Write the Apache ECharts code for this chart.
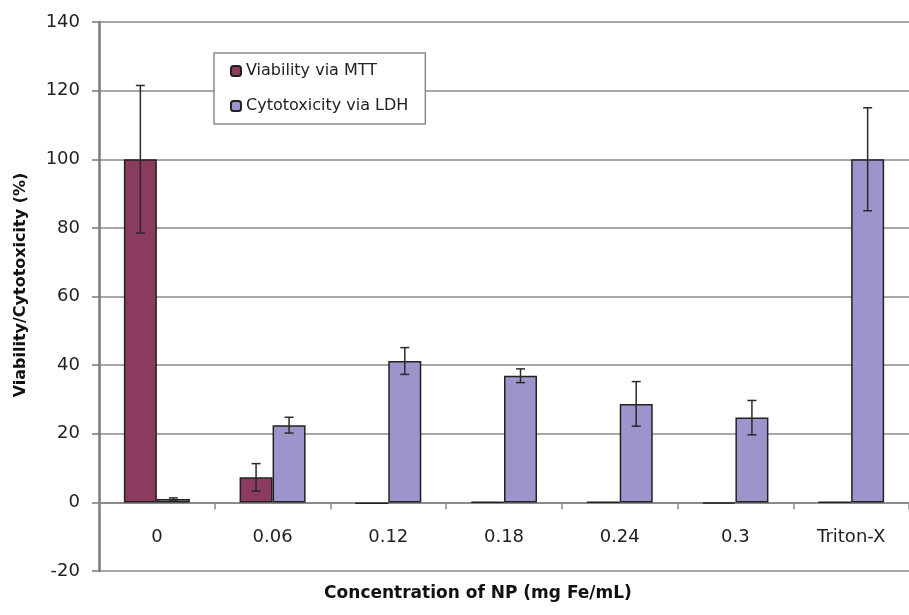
<!DOCTYPE html>
<html>
<head>
<meta charset="utf-8">
<script src="https://cdn.jsdelivr.net/npm/echarts@6/dist/echarts.min.js"></script>
<style>
  html, body { margin: 0; padding: 0; background: #fff; }
  #chart { width: 909px; height: 615px; }
</style>
</head>
<body>
<div id="chart"></div>
<script type="text/javascript">
	var categories = ['0', '0.06', '0.12', '0.18', '0.24', '0.3', 'Triton-X'];
	var mttValues = [100, 7.3, -0.5, 0.1, 0.1, -0.3, 0.1];
	var mttErrors = [21.5, 4, 0, 0, 0, 0, 0];
	var ldhValues = [1, 22.5, 41.2, 36.9, 28.7, 24.7, 100];
	var ldhErrors = [0.3, 2.3, 3.9, 2, 6.5, 5, 15];
	var yTicks = { min: -20, max: 140, step: 20 };

	var mttColor = '#8b3b5e';
	var ldhColor = '#9c94ca';
	var barW = 33;
	var gridTop = 22, gridBottom = 44;
	// move the category axis up to the zero line
	var plotH = 615 - gridTop - gridBottom;
	var zeroShift = -plotH * (0 - yTicks.min) / (yTicks.max - yTicks.min);

	function errData(vals, errs) {
		var out = [];
		for (var i = 0; i < vals.length; i++) {
			if (errs[i] > 0) out.push([i, vals[i] - errs[i], vals[i] + errs[i]]);
		}
		return out;
	}

	function errRenderer(offset) {
		return function (params, api) {
			var lo = api.coord([api.value(0), api.value(1)]);
			var hi = api.coord([api.value(0), api.value(2)]);
			var x = lo[0] + offset;
			var cap = 4.5;
			var st = { stroke: '#2a2a2a', lineWidth: 1.5 };
			return {
				type: 'group',
				children: [
					{ type: 'line', shape: { x1: x, y1: lo[1], x2: x, y2: hi[1] }, style: st },
					{ type: 'line', shape: { x1: x - cap, y1: hi[1], x2: x + cap, y2: hi[1] }, style: st },
					{ type: 'line', shape: { x1: x - cap, y1: lo[1], x2: x + cap, y2: lo[1] }, style: st }
				]
			};
		};
	}

	var chart = echarts.init(document.getElementById('chart'));
	var option = {
		backgroundColor: '#ffffff',
		animation: false,
		grid: { left: 99, right: -9, top: gridTop, bottom: gridBottom, containLabel: false },
		legend: {
			data: ['Viability via MTT', 'Cytotoxicity via LDH'],
			orient: 'vertical',
			left: 214,
			top: 53,
			itemWidth: 10,
			itemHeight: 10,
			itemGap: 19,
			padding: [10, 17, 10, 16],
			backgroundColor: '#ffffff',
			borderColor: '#8a8a8a',
			borderWidth: 1.5,
			textStyle: { fontFamily: 'DejaVu Sans', fontSize: 16, color: '#222' }
		},
		xAxis: {
			type: 'category',
			data: categories,
			position: 'bottom',
			offset: zeroShift,
			axisLine: { onZero: false, lineStyle: { color: '#8a8a8a', width: 2 } },
			axisTick: { show: true, length: 7, lineStyle: { color: '#8a8a8a', width: 1.5 } },
			axisLabel: { margin: 26, fontFamily: 'DejaVu Sans', fontSize: 18, color: '#222' },
			splitLine: { show: false }
		},
		yAxis: {
			type: 'value',
			min: yTicks.min,
			max: yTicks.max,
			interval: yTicks.step,
			axisLine: { show: true, lineStyle: { color: '#7a7a7a', width: 2.5 } },
			axisTick: { show: true, length: 7, lineStyle: { color: '#7a7a7a', width: 1.5 } },
			axisLabel: { margin: 19, fontFamily: 'DejaVu Sans', fontSize: 18, color: '#222' },
			splitLine: { show: true, lineStyle: { color: '#8a8a8a', width: 1.5 } }
		},
		graphic: [
			{
				type: 'text', x: 478, y: 594,
				style: { text: 'Concentration of NP (mg Fe/mL)', fontFamily: 'DejaVu Sans', fontWeight: 'bold', fontSize: 17, fill: '#111', textAlign: 'center', textVerticalAlign: 'middle' }
			},
			{
				type: 'text', x: 21, y: 285, rotation: Math.PI / 2,
				style: { text: 'Viability/Cytotoxicity (%)', fontFamily: 'DejaVu Sans', fontWeight: 'bold', fontSize: 16, fill: '#111', textAlign: 'center', textVerticalAlign: 'middle' }
			}
		],
		series: [
			{
				name: 'Viability via MTT',
				type: 'bar',
				barWidth: barW,
				barGap: '0%',
				data: mttValues,
				itemStyle: { color: mttColor, borderColor: '#222', borderWidth: 1.5 }
			},
			{
				name: 'Cytotoxicity via LDH',
				type: 'bar',
				barWidth: barW,
				barGap: '0%',
				data: ldhValues,
				itemStyle: { color: ldhColor, borderColor: '#222', borderWidth: 1.5 }
			},
			{
				type: 'custom',
				renderItem: errRenderer(-barW / 2),
				data: errData(mttValues, mttErrors),
				encode: { x: 0, y: [1, 2] },
				z: 10
			},
			{
				type: 'custom',
				renderItem: errRenderer(barW / 2),
				data: errData(ldhValues, ldhErrors),
				encode: { x: 0, y: [1, 2] },
				z: 10
			}
		]
	};
	chart.setOption(option);
</script>
</body>
</html>
